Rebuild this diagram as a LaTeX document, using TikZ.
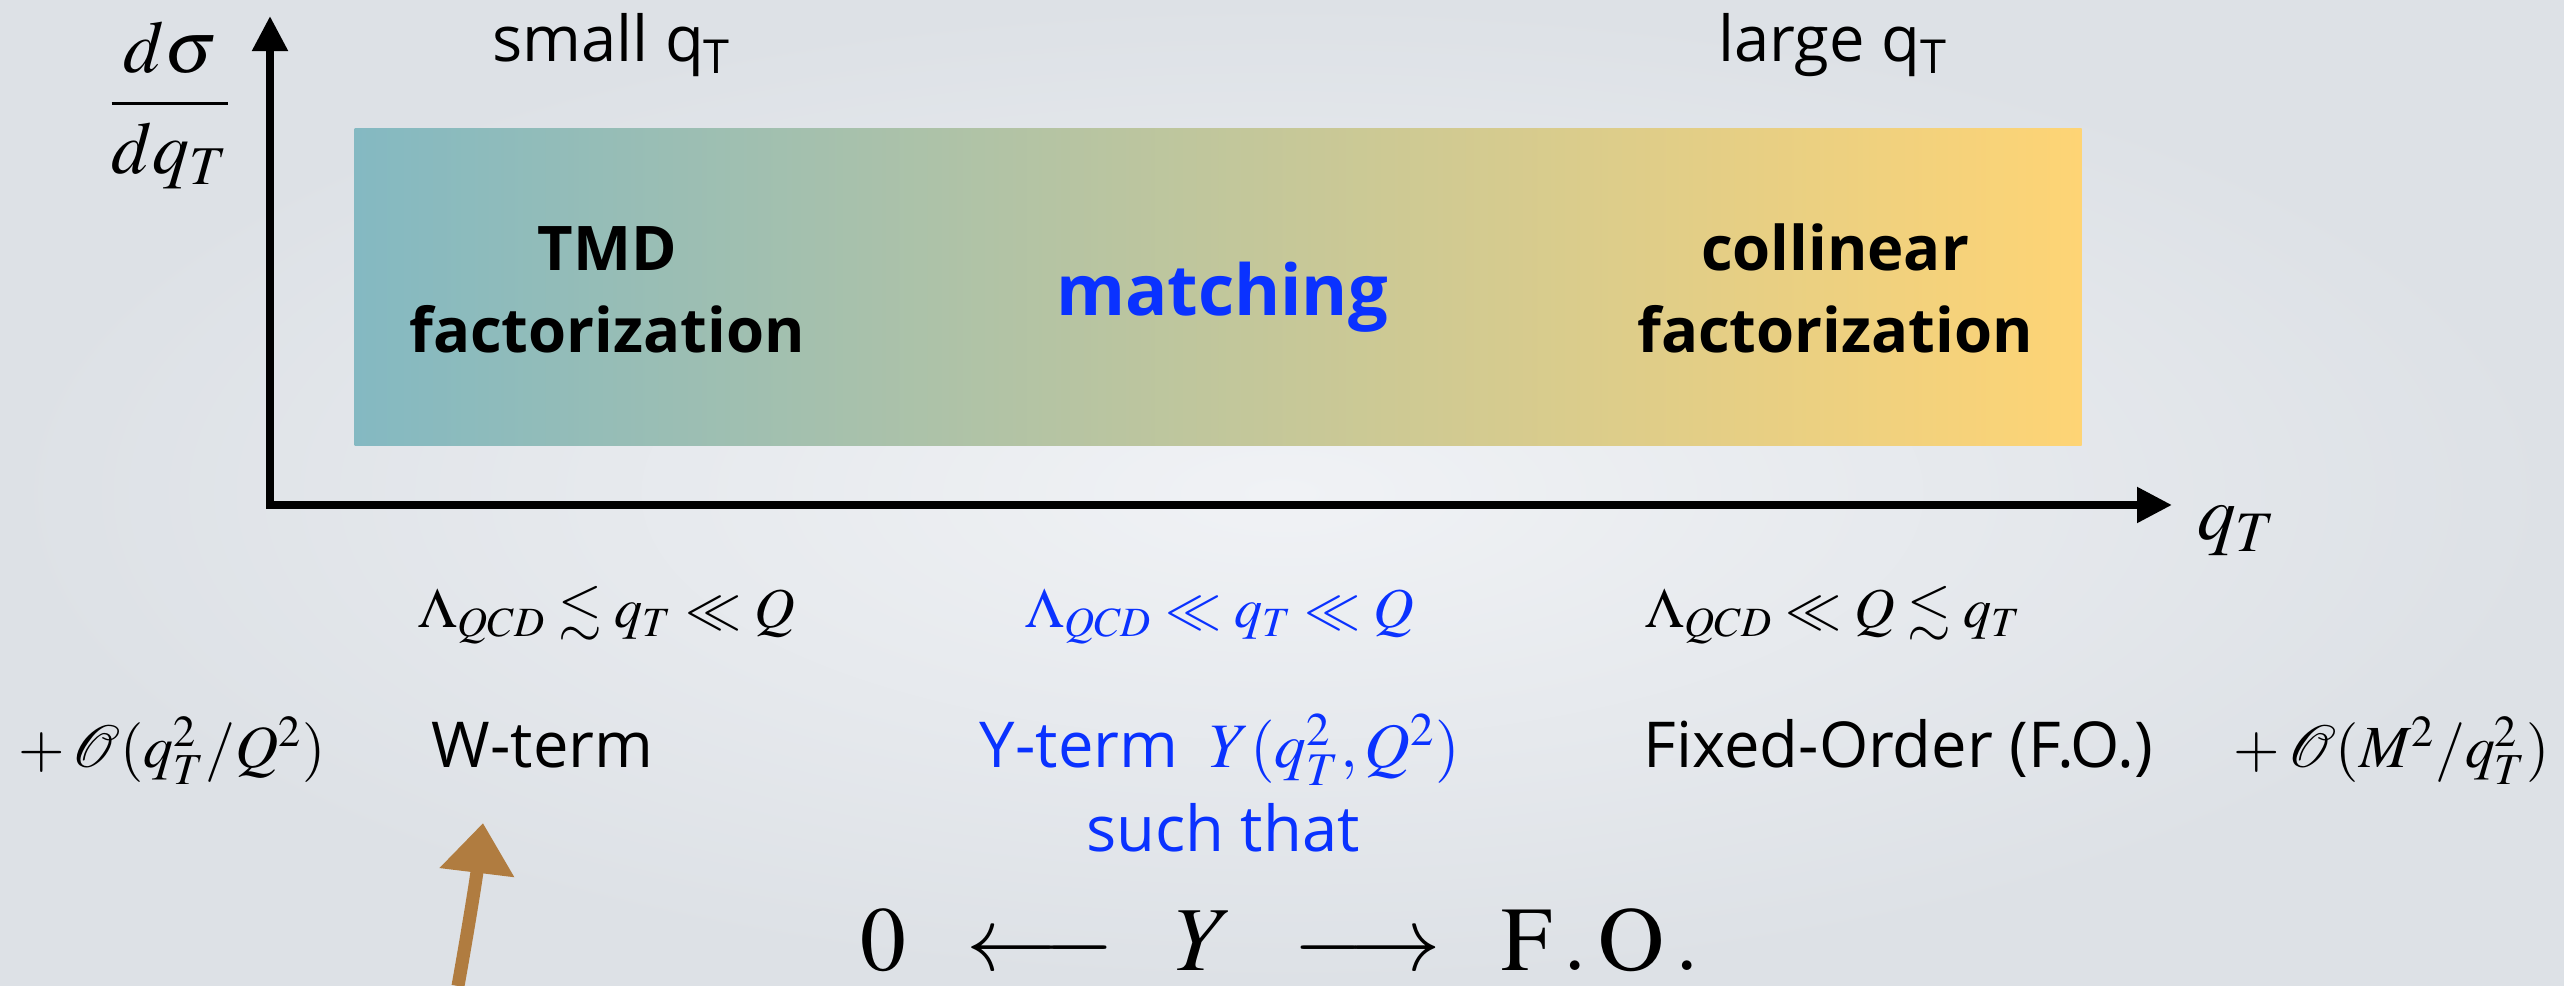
\documentclass[tikz,border=0pt]{standalone}
\usepackage{amsmath}
\usepackage{amssymb}
\usepackage{mathptmx}
\usepackage[no-math]{fontspec}
\setmainfont{Open Sans}
\usetikzlibrary{arrows.meta, positioning, calc}

\definecolor{bandleft}{RGB}{132,185,194}
\definecolor{bandright}{RGB}{254,212,117}
\definecolor{matchblue}{RGB}{10,50,255}
\definecolor{chalk}{RGB}{176,124,64}
\definecolor{bgin}{RGB}{240,242,245}
\definecolor{bgout}{RGB}{221,225,230}

\begin{document}
\begin{tikzpicture}[
    x=0.01cm, y=-0.01cm,
    lbl/.style={inner sep=0pt, font=\fontsize{18}{22}\selectfont},
    corr/.style={inner sep=0pt, font=\fontsize{17}{20}\selectfont},
    regime/.style={inner sep=0pt, align=center, font=\fontsize{17.5}{23.3}\selectfont\bfseries},
    cond/.style={inner sep=0pt, font=\fontsize{16}{19}\selectfont},
    axis/.style={line width=2.3pt,
                 {Triangle[length=0.35cm, width=0.34cm]}-{Triangle[length=0.35cm, width=0.34cm]}},
]

    %==================== BACKGROUND ====================
    \useasboundingbox (0,0) rectangle (2564,986);
    \shade[inner color=bgin, outer color=bgout] (0,0) rectangle (2564,986);

    %==================== REGIME BAND ====================
    \node[minimum width=17.26cm, minimum height=3.16cm, inner sep=0pt,
          left color=bandleft, right color=bandright] (band) at (1218,287) {};

    %==================== AXES ====================
    \coordinate (origin) at (270,505);
    \coordinate (ytop) at (270,16);
    \coordinate (xend) at (2172,505);
    \draw[axis] (ytop) -- (origin) -- (xend);

    \node[inner sep=0pt, font=\fontsize{21}{25}\selectfont] (dsig) at (170,105)
        {$\dfrac{d\sigma}{dq_T}$};
    \node[inner sep=0pt, font=\fontsize{22}{26}\selectfont, anchor=base] (qaxis) at (2237,540)
        {$q_T$};

    %==================== REGIMES ====================
    \node[lbl, anchor=base] (small) at (612,62) {small q\textsubscript{T}};
    \node[lbl, anchor=base] (large) at (1833,62) {large q\textsubscript{T}};

    \node[regime] (tmd) at (607,290) {TMD\\factorization};
    \node[regime, font=\fontsize{20}{24}\selectfont\bfseries, text=matchblue, anchor=base]
        (match) at (1222,316) {matching};
    \node[regime] (coll) at (1835,288) {collinear\\factorization};

    %==================== VALIDITY CONDITIONS ====================
    \node[cond, anchor=base] (condW) at (607,628) {$\Lambda_{QCD} \lesssim q_T \ll Q$};
    \node[cond, anchor=base, text=matchblue] (condY) at (1220,628) {$\Lambda_{QCD} \ll q_T \ll Q$};
    \node[cond, anchor=base] (condF) at (1834,628) {$\Lambda_{QCD} \ll Q \lesssim q_T$};

    %==================== TERMS ====================
    \node[corr, anchor=base] (powW) at (172,768) {$+\,\mathcal{O}(q_T^2/Q^2)$};
    \node[lbl, anchor=base west] (wterm) at (431,768) {W-term};
    \node[lbl, anchor=base, text=matchblue] (yterm) at (1220,768) {Y-term\enspace$Y(q_T^2, Q^2)$};
    \node[lbl, anchor=base west] (foterm) at (1643,768) {Fixed-Order (F.O.)};
    \node[corr, anchor=base] (powF) at (2392,768) {$+\,\mathcal{O}(M^2/q_T^2)$};

    \node[lbl, anchor=base, text=matchblue] (such) at ($(yterm.base)+(3,84)$) {such that};
    \node[inner sep=0pt, font=\fontsize{26}{30}\selectfont, anchor=base] (limits) at (1280,970)
        {$0 \;\;\longleftarrow\;\; Y \;\;\longrightarrow\;\; \mathrm{F\,.\,O\,.}$};

    %==================== HAND-DRAWN POINTER ====================
    \coordinate (chalkfoot) at (458,986);
    \coordinate (chalktip) at (483,823);
    \draw[line width=3.7pt, chalk, -{Triangle[length=0.5cm, width=0.72cm]}]
        (chalkfoot) .. controls (468,930) and (476,880) .. (chalktip);

\end{tikzpicture}
\end{document}
